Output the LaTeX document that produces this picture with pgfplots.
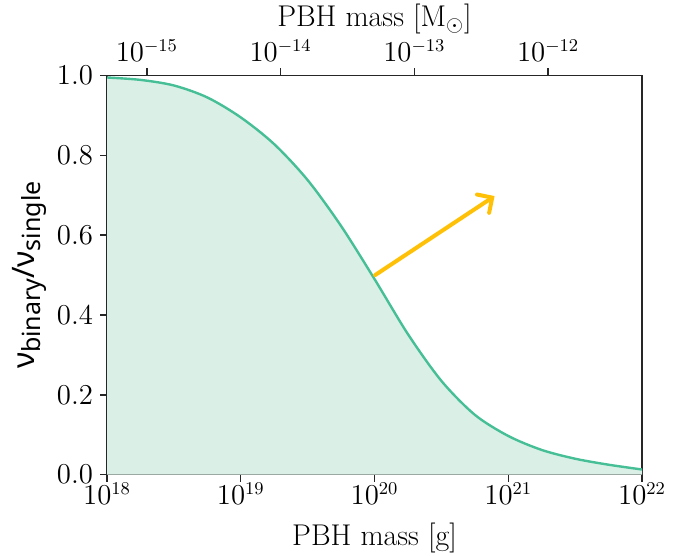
\documentclass[border=0pt]{standalone}
\usepackage{pgfplots}
\pgfplotsset{compat=1.18}
\usepackage{pgfplotstable}
\usepackage{fontspec}
\newfontfamily\nsans{Noto Sans}
\usetikzlibrary{arrows.meta}
\definecolor{curvec}{RGB}{70,190,150}
\definecolor{fillc}{RGB}{218,240,231}
\definecolor{arrowc}{RGB}{255,193,7}
\pgfplotstableread{
x y
1e18 0.995
1.778e18 0.989
3.162e18 0.975
5.623e18 0.945
1e19 0.895
1.778e19 0.828
3.162e19 0.738
5.623e19 0.623
1e20 0.490
1.778e20 0.352
3.162e20 0.235
5.623e20 0.150
1e21 0.097
1.778e21 0.062
3.162e21 0.040
5.623e21 0.025
1e22 0.013
}\datatab
\begin{document}
\begin{tikzpicture}[font=\fontsize{13.5}{15}\selectfont]
\begin{axis}[
  name=main,
  width=267.5pt, height=199.6pt, scale only axis,
  xmode=log, xmin=1e18, xmax=1e22, ymin=0, ymax=1,
  xtick={1e18,1e19,1e20,1e21,1e22},
  ytick={0,0.2,0.4,0.6,0.8,1.0},
  yticklabel style={/pgf/number format/.cd,fixed,precision=1,zerofill},
  xtick pos=left, ytick pos=left,
  xminorticks=false,
  tick align=outside, major tick length=3.5pt,
  axis line style={line width=0.8pt, black!85},
  every tick/.style={line width=0.7pt, black!85},
  xticklabel style={anchor=base, yshift=-11.5pt},
  xlabel={\fontsize{15}{17}\selectfont PBH mass [g]},
  xlabel style={at={(axis description cs:0.5,0)}, anchor=base, yshift=-35.2pt},
  ylabel={\nsans\fontsize{15.5}{17}\selectfont ν\raisebox{-0.35ex}{\fontsize{12.5}{14}\selectfont binary}/ν\raisebox{-0.35ex}{\fontsize{12.5}{14}\selectfont single}},
  ylabel style={at={(axis description cs:-0.145,0.5)}, anchor=center},
  clip=true,
]
\addplot[draw=none, fill=fillc, smooth] table[x=x,y=y]{\datatab} \closedcycle;
\addplot[curvec, line width=1.2pt, smooth] table[x=x,y=y]{\datatab};
\draw[arrowc, line width=2pt, line cap=round, -{Straight Barb[length=5.5pt,width=11pt,line cap=round]}] (axis cs:1.01e20,0.5) -- (axis cs:7.9e20,0.698);
\end{axis}
\begin{axis}[
  width=267.5pt, height=199.6pt, scale only axis,
  xmode=log, xmin=5.0277e-16, xmax=5.0277e-12, ymin=0, ymax=1,
  axis x line*=top, axis y line=none,
  xtick={1e-15,1e-14,1e-13,1e-12},
  xminorticks=false,
  tick align=outside, major tick length=3.5pt,
  axis line style={line width=0.8pt, black!85},
  every tick/.style={line width=0.7pt, black!85},
  xticklabel style={anchor=base, yshift=3.5pt},
  xlabel={\fontsize{15}{17}\selectfont PBH mass [M$_\odot$]},
  xlabel style={at={(axis description cs:0.5,1)}, anchor=base, yshift=24.4pt},
]
\end{axis}
\pgfresetboundingbox
\path (main.south west) ++(-53.5pt,-40.65pt) coordinate (bl);
\path (main.north east) ++(28.5pt,37.75pt) coordinate (tr);
\useasboundingbox (bl) rectangle (tr);
\end{tikzpicture}
\end{document}
